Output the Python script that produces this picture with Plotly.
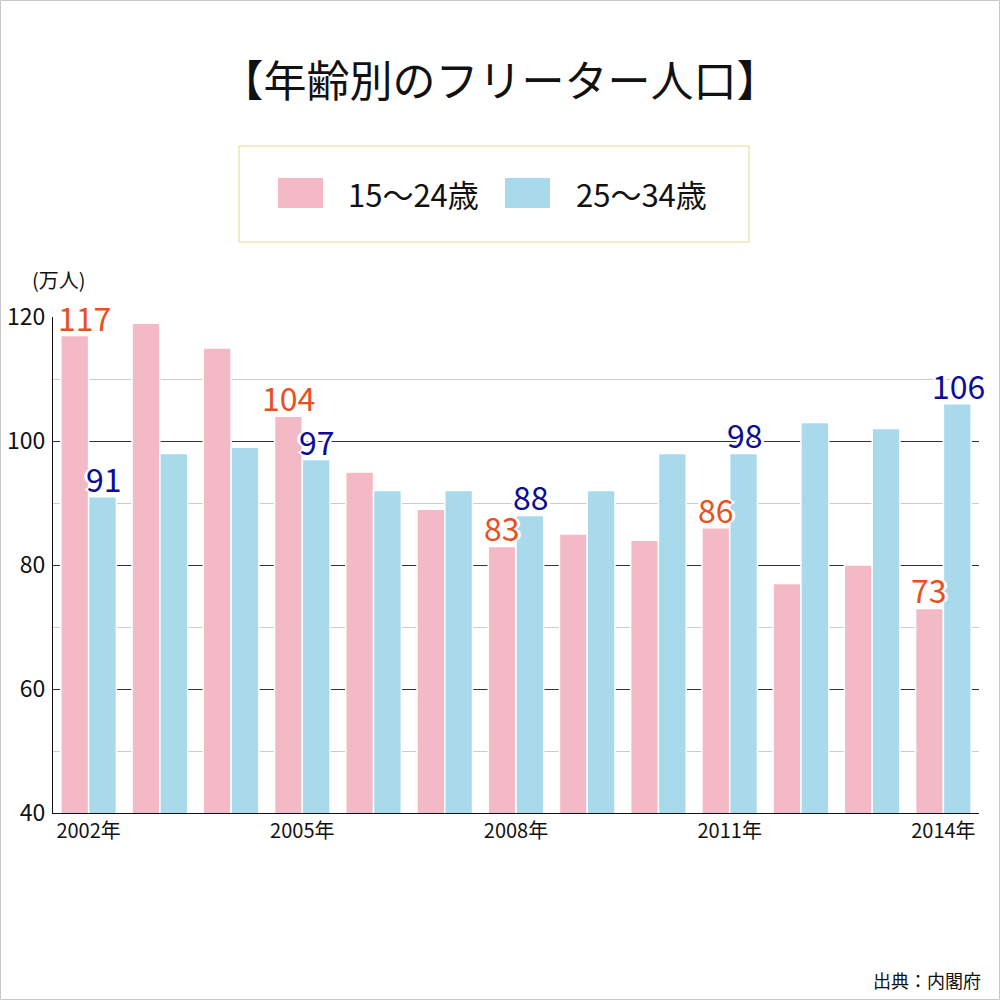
import plotly.graph_objects as go

years = ["2002年", "2003年", "2004年", "2005年", "2006年", "2007年", "2008年",
         "2009年", "2010年", "2011年", "2012年", "2013年", "2014年"]
young = [117, 119, 115, 104, 95, 89, 83, 85, 84, 86, 77, 80, 73]
older = [91, 98, 99, 97, 92, 92, 88, 92, 98, 98, 103, 102, 106]
young_label_idx = [0, 3, 6, 9, 12]
older_label_idx = [0, 3, 6, 9, 12]
tick_years = ["2002年", "2005年", "2008年", "2011年", "2014年"]
series_names = ["15～24歳", "25～34歳"]

PINK = "#f4b9c7"
BLUE = "#a8daec"
PINK_TXT = "#e8501e"
BLUE_TXT = "#0c0c96"
FONT = "Noto Sans CJK JP"
HALO = ("white 2px 0px 0px, white -2px 0px 0px, white 0px 2px 0px, white 0px -2px 0px, "
        "white 3px 0px 0px, white -3px 0px 0px")

# plot-area pixel geometry
L, R, T, B = 53, 979, 317, 813
W, H = R - L, B - T


def px(x):
    return (x - L) / W


def py(y):
    return (B - y) / H


fig = go.Figure()
fig.add_trace(go.Bar(x=years, y=young, name=series_names[0],
                     marker=dict(color=PINK, line=dict(color="white", width=1.5))))
fig.add_trace(go.Bar(x=years, y=older, name=series_names[1],
                     marker=dict(color=BLUE, line=dict(color="white", width=1.5))))

annotations = []
for i in young_label_idx:
    annotations.append(dict(x=years[i], y=young[i], xref="x", yref="y", text=str(young[i]),
                            showarrow=False, yanchor="bottom", xshift=-14 + (10 if i == 0 else 0),
                            borderpad=0, yshift=-5,
                            font=dict(size=32, color=PINK_TXT, family=FONT, shadow=HALO)))
for i in older_label_idx:
    annotations.append(dict(x=years[i], y=older[i], xref="x", yref="y", text=str(older[i]),
                            showarrow=False, yanchor="bottom", xshift=15,
                            borderpad=0, yshift=-5,
                            font=dict(size=32, color=BLUE_TXT, family=FONT, shadow=HALO)))

# legend (drawn manually to match large swatches)
annotations += [
    dict(x=px(346), y=py(193), xref="paper", yref="paper", text=series_names[0],
         showarrow=False, xanchor="left", yanchor="middle",
         font=dict(size=31, color="#111", family=FONT)),
    dict(x=px(574), y=py(193), xref="paper", yref="paper", text=series_names[1],
         showarrow=False, xanchor="left", yanchor="middle",
         font=dict(size=31, color="#111", family=FONT)),
    dict(x=px(30), y=py(280), xref="paper", yref="paper", text="(万人)",
         showarrow=False, xanchor="left", yanchor="middle",
         font=dict(size=20, color="#111", family=FONT)),
    dict(x=px(983), y=py(980), xref="paper", yref="paper", text="出典：内閣府",
         showarrow=False, xanchor="right", yanchor="middle",
         font=dict(size=18, color="#111", family=FONT)),
]

shapes = [
    dict(type="rect", xref="paper", yref="paper", x0=px(239), x1=px(749), y0=py(146), y1=py(242),
         line=dict(color="#e3da8e", width=1), fillcolor="rgba(0,0,0,0)"),
    dict(type="rect", xref="paper", yref="paper", x0=px(278), x1=px(323), y0=py(178), y1=py(208),
         line=dict(width=0), fillcolor=PINK),
    dict(type="rect", xref="paper", yref="paper", x0=px(505), x1=px(550), y0=py(178), y1=py(208),
         line=dict(width=0), fillcolor=BLUE),
    dict(type="rect", xref="paper", yref="paper", x0=px(0.5), x1=px(999.5), y0=py(999.5), y1=py(0.5),
         line=dict(color="#c8c8c8", width=1), fillcolor="rgba(0,0,0,0)"),
]

fig.update_layout(
    width=1000, height=1000,
    margin=dict(l=L, r=1000 - R, t=T, b=1000 - B, pad=0, autoexpand=False),
    paper_bgcolor="white", plot_bgcolor="white",
    showlegend=False,
    barmode="group", bargap=0.22, bargroupgap=0.0,
    title=dict(text="【年齢別のフリーター人口】", x=0.5, xanchor="center", y=1 - 82 / 1000,
               yanchor="middle", xref="container",
               font=dict(size=43, color="#111", family=FONT)),
    font=dict(family=FONT, color="#111"),
    annotations=annotations,
    shapes=shapes,
)
fig.update_xaxes(type="category", tickmode="array", tickvals=tick_years, ticktext=tick_years,
                 range=[-0.5, len(years) - 0.5],
                 showline=True, linecolor="#111", linewidth=1, ticks="", showgrid=False,
                 automargin=False,
                 tickfont=dict(size=20, color="#111", family=FONT))
fig.update_yaxes(range=[40, 120], dtick=20, tick0=40, showline=True, linecolor="#111", linewidth=1,
                 showgrid=True, gridcolor="#333", gridwidth=1, zeroline=False, ticks="",
                 ticklabelstandoff=2, automargin=False,
                 minor=dict(dtick=10, tick0=40, showgrid=True, gridcolor="#cccccc", gridwidth=1),
                 tickfont=dict(size=23, color="#111", family=FONT))

fig.write_html("out.html", config={"displayModeBar": False},
               post_script="document.body.style.margin='0px';document.body.style.overflow='hidden';")
